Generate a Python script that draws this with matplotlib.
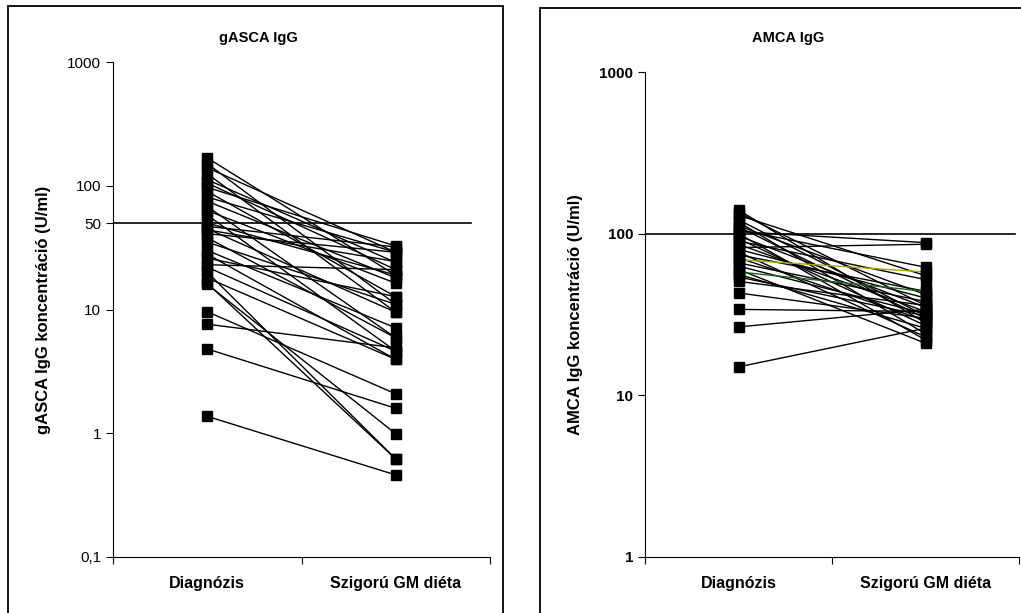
import matplotlib
matplotlib.use("Agg")
import matplotlib.pyplot as plt
from matplotlib.patches import Rectangle
from matplotlib.ticker import FixedLocator, NullLocator

plt.rcParams['font.family'] = ['Liberation Sans', 'DejaVu Sans']

categories = ["Diagnózis", "Szigorú GM diéta"]

# gASCA IgG (U/ml): diagnózis -> szigorú GM diéta
gasca_diag = [168, 151, 140, 125, 112, 105, 97, 90, 81, 75, 68, 63, 58, 50, 47,
              45, 44, 41, 38, 35, 30, 28, 26, 23, 22, 20, 18, 16.3, 16, 9.6, 7.6,
              4.8, 1.37]
gasca_diet = [18.9, 11, 29, 9.5, 24, 21, 32.6, 12.7, 29, 18, 5.9, 16.3, 4.6, 19,
              32, 9.5, 24.4, 29, 5.9, 11, 7.1, 3.95, 12.7, 21, 4.6, 0.62, 3.95,
              0.62, 0.99, 2.08, 4.9, 1.59, 0.46]
gasca_cutoff = 50

# AMCA IgG (U/ml)
amca_diag = [140, 135, 130, 122, 118, 112, 110, 106, 103, 100, 97, 93, 90, 86, 82,
             80, 77, 74, 71, 69, 66, 63, 60, 58, 56, 54, 50.7, 43, 34, 26.5, 15]
amca_diet = [28, 36, 55, 31, 24, 42, 30, 62, 88, 22, 35, 27, 52, 33, 86, 40, 23,
             44, 29, 58, 38, 32, 21, 44, 26, 31, 36, 30, 33, 34, 26]
amca_colors = {19: '#a8a800', 23: '#1f5f1f'}
amca_cutoff = 100

fig = plt.figure(figsize=(10.21, 6.13), dpi=100)

# keretek
fig.patches.append(Rectangle((8/1021, -0.05), 495/1021, 1.05 - 6/613, transform=fig.transFigure,
                             fill=False, ec='black', lw=1.3))
fig.patches.append(Rectangle((540/1021, -0.05), 0.6, 1.05 - 8/613, transform=fig.transFigure,
                             fill=False, ec='black', lw=1.3))


def panel(rect, diag, diet, cutoff, ylim, yticks, ylabels, title, title_x, ylabel,
          bold_ticks, cut_end, colors=None):
    ax = fig.add_axes(rect)
    ax.set_yscale('log')
    for i, (a, b) in enumerate(zip(diag, diet)):
        c = (colors or {}).get(i, 'black')
        ax.plot([1, 2], [a, b], '-', color=c, lw=1.0, zorder=2)
        ax.plot([1, 2], [a, b], 's', color='black', ms=6.8, zorder=3)
    ax.plot([0.5, cut_end], [cutoff, cutoff], color='black', lw=1.2, zorder=1)
    ax.set_xlim(0.5, 2.5)
    ax.set_ylim(*ylim)
    ax.yaxis.set_major_locator(FixedLocator(yticks))
    ax.yaxis.set_minor_locator(NullLocator())
    ax.set_yticklabels(ylabels, fontsize=11, fontweight='bold' if bold_ticks else 'normal')
    ax.set_xticks([0.5, 1.5, 2.5])
    ax.set_xticklabels([])
    ax.set_xticks([1, 2], minor=True)
    ax.set_xticklabels(categories, minor=True, fontsize=11.5, fontweight='bold')
    ax.tick_params(axis='x', which='minor', length=0, pad=14)
    ax.tick_params(axis='x', which='major', length=5, width=0.8)
    ax.tick_params(axis='y', length=5, width=0.8)
    for s in ['top', 'right']:
        ax.spines[s].set_visible(False)
    for s in ['left', 'bottom']:
        ax.spines[s].set_linewidth(0.8)
    fig.text(title_x, 1 - 38/613, title, fontsize=10.5, fontweight='bold',
             ha='center', va='center')
    ax.set_ylabel(ylabel, fontsize=12, fontweight='bold', labelpad=12)
    return ax


panel([113/1021, 56/613, 377/1021, 495/613], gasca_diag, gasca_diet, gasca_cutoff,
      (0.1, 1000), [0.1, 1, 10, 50, 100, 1000], ['0,1', '1', '10', '50', '100', '1000'],
      'gASCA IgG', 258/1021, 'gASCA IgG koncentráció (U/ml)', False, 2.4)

panel([645/1021, 56/613, 374/1021, 485/613], amca_diag, amca_diet, amca_cutoff,
      (1, 1000), [1, 10, 100, 1000], ['1', '10', '100', '1000'],
      'AMCA IgG', 788/1021, 'AMCA IgG koncentráció (U/ml)', True, 2.48, amca_colors)

fig.savefig('out.png', dpi=100)
